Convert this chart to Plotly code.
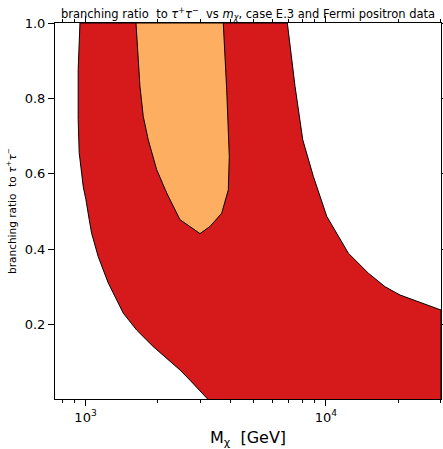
import plotly.graph_objects as go

# Red (outer) region boundaries
red_left_x = [948, 932, 932, 941, 978, 1004, 1036, 1060, 1129, 1243, 1435, 1632, 1913, 2471, 2719, 3241]
red_left_y = [1.0, 0.876, 0.744, 0.656, 0.566, 0.531, 0.478, 0.442, 0.380, 0.310, 0.230, 0.185, 0.141, 0.079, 0.052, 0.0]
red_right_x = [30100, 29850, 20340, 17620, 15013, 12397, 10076, 8863, 8009, 7437, 6909]
red_right_y = [0.239, 0.239, 0.278, 0.300, 0.336, 0.389, 0.487, 0.593, 0.690, 0.832, 1.0]

# Orange (inner) region boundary
orange_x = [1621, 1684, 1738, 1823, 1976, 2175, 2471, 2993, 3294, 3685, 3925, 3963, 3866, 3741, 1621]
orange_y = [1.0, 0.832, 0.752, 0.690, 0.611, 0.549, 0.478, 0.441, 0.460, 0.495, 0.557, 0.646, 0.823, 1.0, 1.0]

x_tickvals = [1000, 10000]
x_ticktext = ["10<sup>3</sup>", "10<sup>4</sup>"]
x_minor = [800, 900, 2000, 3000, 4000, 5000, 6000, 7000, 8000, 9000, 20000, 30000]
y_tickvals = [0.2, 0.4, 0.6, 0.8, 1.0]

red_x = red_left_x + [30100] + red_right_x + [948]
red_y = red_left_y + [0.0] + red_right_y + [1.0]

fig = go.Figure()
fig.add_trace(go.Scatter(x=red_x, y=red_y, mode="lines", fill="toself",
                         fillcolor="#d61a1c", line=dict(color="black", width=1),
                         showlegend=False, hoverinfo="skip"))
fig.add_trace(go.Scatter(x=orange_x, y=orange_y, mode="lines", fill="toself",
                         fillcolor="#fdae61", line=dict(color="black", width=1),
                         showlegend=False, hoverinfo="skip"))

fig.update_layout(
    width=443, height=449,
    margin=dict(l=55, r=2, t=23, b=50),
    paper_bgcolor="white", plot_bgcolor="white",
    font=dict(family="DejaVu Sans", color="black"),
    title=dict(text="branching ratio  to <i>τ</i><sup>+</sup><i>τ</i><sup>−</sup>  vs <i>m</i><sub><i>χ</i></sub>, case E.3 and Fermi positron data",
               x=248 / 443, xanchor="center", y=1 - 14 / 449, yanchor="middle", yref="container",
               font=dict(size=11.5)),
)
fig.update_xaxes(
    type="log", range=[2.873, 4.4786], automargin=False,
    tickvals=x_tickvals, ticktext=x_ticktext,
    ticks="outside", ticklen=6, tickwidth=1, tickcolor="black",
    minor=dict(tickvals=x_minor, ticks="outside", ticklen=3, tickwidth=1, tickcolor="black"),
    showline=True, linecolor="black", linewidth=1, mirror="ticks",
    showgrid=False, zeroline=False,
    tickfont=dict(size=13),
    title=dict(text="M<sub>χ</sub>  [GeV]", font=dict(size=16), standoff=8),
)
fig.update_yaxes(
    range=[0.002, 1.0], automargin=False,
    tickvals=y_tickvals, tickformat=".1f",
    ticks="outside", ticklen=6, tickwidth=1, tickcolor="black",
    showline=True, linecolor="black", linewidth=1, mirror="ticks",
    showgrid=False, zeroline=False,
    tickfont=dict(size=13),
    title=dict(text="branching ratio  to <i>τ</i><sup>+</sup><i>τ</i><sup>−</sup>", font=dict(size=10.5), standoff=6),
)

fig.write_html("out.html")
